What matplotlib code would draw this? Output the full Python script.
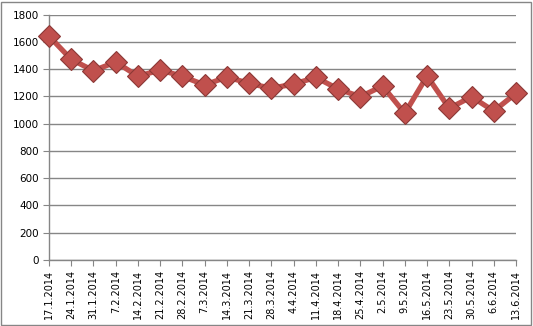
import matplotlib.pyplot as plt
from matplotlib.patches import Rectangle

# weekly dates and values
dates = ['17.1.2014', '24.1.2014', '31.1.2014', '7.2.2014', '14.2.2014', '21.2.2014',
         '28.2.2014', '7.3.2014', '14.3.2014', '21.3.2014', '28.3.2014', '4.4.2014',
         '11.4.2014', '18.4.2014', '25.4.2014', '2.5.2014', '9.5.2014', '16.5.2014',
         '23.5.2014', '30.5.2014', '6.6.2014', '13.6.2014']
values = [1643, 1472, 1389, 1453, 1348, 1394, 1348, 1284, 1343, 1296, 1260, 1291,
          1340, 1255, 1198, 1277, 1076, 1350, 1113, 1198, 1093, 1223]
y_ticks = [0, 200, 400, 600, 800, 1000, 1200, 1400, 1600, 1800]

fig = plt.figure(figsize=(5.33, 3.26), dpi=100)
ax = fig.add_axes([49 / 533, 1 - 260 / 326, 467 / 533, 245.3 / 326])

x = list(range(len(values)))
ax.plot(x, values, color='#C0504D', linewidth=3.8, marker='D', markersize=11,
        markerfacecolor='#C0504D', markeredgecolor='#8C3836', markeredgewidth=0.8,
        zorder=3, clip_on=False)

ax.set_xlim(0, len(values) - 1)
ax.set_ylim(0, 1800)
ax.set_yticks(y_ticks)
ax.set_xticks(x)
ax.set_xticklabels(dates, rotation=90, fontsize=7)
ax.tick_params(axis='y', labelsize=7.5, length=4, color='#868686', pad=3)
ax.tick_params(axis='x', length=4, color='#868686', pad=3)
ax.grid(axis='y', color='#868686', linewidth=1)
ax.set_axisbelow(True)

for side in ['top', 'right']:
    ax.spines[side].set_visible(False)
for side in ['left', 'bottom']:
    ax.spines[side].set_color('#868686')
    ax.spines[side].set_linewidth(1)

# outer chart border
fig.patches.append(Rectangle((1 / 533, 1 / 326), 530 / 533, 323 / 326, transform=fig.transFigure,
                             fill=False, edgecolor='#868686', linewidth=1))

plt.savefig('out.png', dpi=100)
plt.close()
